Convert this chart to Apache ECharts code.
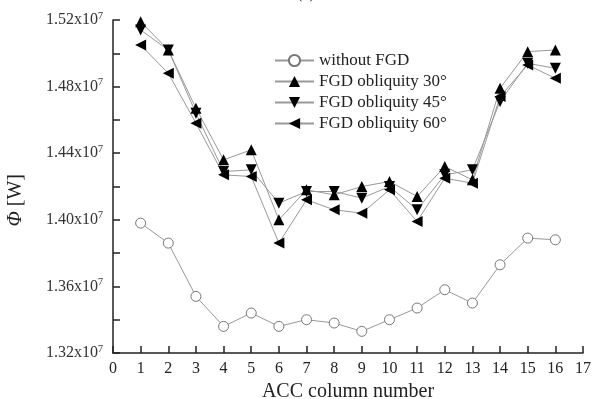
<!DOCTYPE html>
<html lang="en">
	<head>
		<meta charset="UTF-8"/>
		<title></title>
		<script src="https://cdn.jsdelivr.net/npm/echarts@6/dist/echarts.min.js"></script>
		<style>
			html, body { margin: 0; padding: 0; background: #fff; }
		</style>
	</head>
	<body>
		<div id="main" style="width: 604px;height: 399px;"></div>
		<script type="text/javascript">
			// ACC column numbers
			var columns = [1, 2, 3, 4, 5, 6, 7, 8, 9, 10, 11, 12, 13, 14, 15, 16];
			// Φ values, in units of 1e7 W
			var withoutFGD = [1.398, 1.386, 1.354, 1.336, 1.344, 1.336, 1.340, 1.338, 1.333, 1.340, 1.347, 1.358, 1.350, 1.373, 1.389, 1.388];
			var obliquity30 = [1.519, 1.502, 1.467, 1.436, 1.442, 1.400, 1.418, 1.415, 1.420, 1.423, 1.414, 1.432, 1.424, 1.479, 1.501, 1.502];
			var obliquity45 = [1.514, 1.502, 1.464, 1.429, 1.430, 1.410, 1.417, 1.417, 1.413, 1.420, 1.406, 1.427, 1.430, 1.471, 1.494, 1.491];
			var obliquity60 = [1.505, 1.488, 1.458, 1.427, 1.426, 1.386, 1.412, 1.406, 1.404, 1.418, 1.399, 1.425, 1.422, 1.474, 1.493, 1.485];
			var seriesNames = ['without FGD', 'FGD obliquity 30°', 'FGD obliquity 45°', 'FGD obliquity 60°'];

			var font = 'Liberation Serif';

			function pairs(vals) {
				return columns.map(function (c, i) { return [c, vals[i]]; });
			}

			function lineSeries(name, vals, symbol, rotate, filled) {
				return {
					name: name,
					type: 'line',
					data: pairs(vals),
					symbol: symbol,
					symbolSize: filled ? 11 : 10,
					symbolRotate: rotate,
					showAllSymbol: true,
					lineStyle: { color: '#999', width: 1 },
					itemStyle: filled
						? { color: '#000', borderColor: '#000', borderWidth: 0 }
						: { color: '#fff', borderColor: '#777', borderWidth: 1 },
					emphasis: { disabled: true },
					animation: false
				};
			}

			var myChart = echarts.init(document.getElementById('main'));
			var option = {
				backgroundColor: '#fff',
				title: {
					text: '(a)',
					left: 292,
					top: -19,
					textStyle: { fontFamily: font, fontSize: 16, fontWeight: 'normal', color: '#222' }
				},
				grid: { left: 113, right: 21, top: 20, bottom: 46, outerBoundsMode: 'none' },
				legend: {
					orient: 'vertical',
					left: 269,
					top: 47,
					itemWidth: 39,
					itemHeight: 14,
					itemGap: 4,
					data: seriesNames,
					textStyle: { fontFamily: font, fontSize: 17, color: '#222' }
				},
				xAxis: {
					type: 'value',
					min: 0,
					max: 17,
					interval: 1,
					name: 'ACC column number',
					nameLocation: 'middle',
					nameGap: 25,
					nameTextStyle: { fontFamily: font, fontSize: 20, color: '#222' },
					axisLine: { lineStyle: { color: '#222', width: 1.5 } },
					axisTick: { inside: true, length: 7, lineStyle: { color: '#222', width: 1.5 } },
					axisLabel: { fontFamily: font, fontSize: 16, color: '#222', margin: 8 },
					splitLine: { show: false }
				},
				yAxis: {
					type: 'value',
					min: 1.32,
					max: 1.52,
					interval: 0.04,
					axisLine: { show: true, lineStyle: { color: '#222', width: 1.5 } },
					axisTick: { show: true, inside: true, length: 7, lineStyle: { color: '#222', width: 1.5 } },
					minorTick: { show: true, splitNumber: 2, length: 7, lineStyle: { color: '#222', width: 1.5 } },
					axisLabel: {
						margin: 10,
						formatter: function (v) { return '{b|' + v.toFixed(2) + 'x10}{s|7}'; },
						rich: {
							b: { fontFamily: font, fontSize: 16, color: '#333' },
							s: { fontFamily: font, fontSize: 10, color: '#333', verticalAlign: 'top', padding: [0, 0, 8, 0] }
						}
					},
					splitLine: { show: false }
				},
				graphic: [{
					type: 'text',
					left: 6,
					top: 174,
					rotation: Math.PI / 2,
					style: {
						text: '{i|Φ} [W]',
						rich: { i: { fontFamily: font, fontStyle: 'italic', fontSize: 20, fill: '#222' } },
						font: '20px "Liberation Serif"',
						fill: '#222'
					}
				}],
				series: [
					lineSeries(seriesNames[0], withoutFGD, 'circle', 0, false),
					lineSeries(seriesNames[1], obliquity30, 'triangle', 0, true),
					lineSeries(seriesNames[2], obliquity45, 'triangle', 180, true),
					lineSeries(seriesNames[3], obliquity60, 'triangle', 90, true)
				]
			};
			myChart.setOption(option);
		</script>
	</body>
</html>
